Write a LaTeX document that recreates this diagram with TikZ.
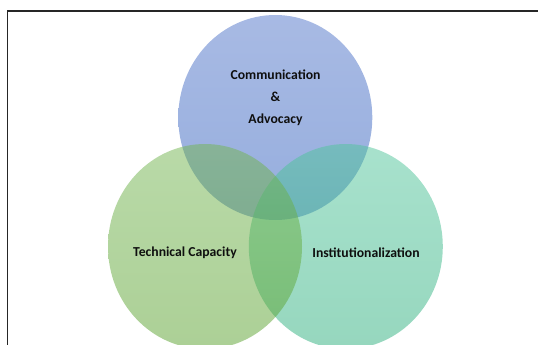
\documentclass[tikz,border=0pt]{standalone}
\usepackage{fontspec}
\setmainfont{Carlito}
\usetikzlibrary{shapes.geometric}

% base colours of the three sets (drawn at half opacity)
\definecolor{commTop}{RGB}{81,117,201}
\definecolor{commBot}{RGB}{45,93,189}
\definecolor{instTop}{RGB}{81,197,155}
\definecolor{instBot}{RGB}{45,175,125}
\definecolor{techTop}{RGB}{115,181,81}
\definecolor{techBot}{RGB}{89,161,45}
\definecolor{inkdark}{RGB}{15,15,15}

\begin{document}
\begin{tikzpicture}[x=1pt,y=-1pt,
  venn/.style={ellipse, draw=none, fill opacity=0.5,
    minimum width=194pt, minimum height=205pt, inner sep=0pt},
  setlabel/.style={font=\fontsize{13.7}{22}\selectfont\bfseries,
    text=inkdark, align=center, inner sep=0pt},
  frameline/.style={line width=1.5pt, draw=black!85}]

\useasboundingbox (0,0) rectangle (538,345);

% page frame (top and left edges)
\coordinate (fbl) at (7.5,345);
\coordinate (ftl) at (7.5,11);
\coordinate (ftr) at (538,11);
\draw[frameline] (fbl) -- (ftl) -- (ftr);

% the three sets
\node[venn, top color=commTop, bottom color=commBot] (comm) at (275.3,117.5) {};
\node[venn, top color=instTop, bottom color=instBot] (inst) at (345.8,246.5) {};
\node[venn, top color=techTop, bottom color=techBot] (tech) at (205,246.5) {};

% labels
\node[setlabel] (commlbl) at (275.5,97.5) {Communication\\\&\\Advocacy};
\node[setlabel] (techlbl) at (185,252.5) {Technical Capacity};
\node[setlabel] (instlbl) at (366,252.5) {Institutionalization};
\end{tikzpicture}
\end{document}
